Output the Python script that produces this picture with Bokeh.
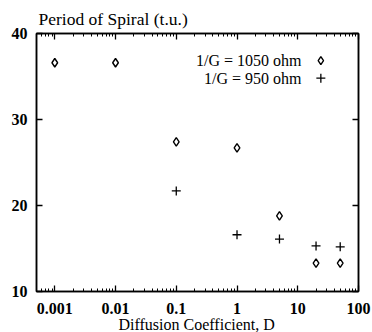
from bokeh.plotting import figure
from bokeh.models import LogAxis, LinearAxis, FixedTicker, Label, Title
from bokeh.embed import file_html
from bokeh.resources import INLINE

# data
D_1050 = [0.001, 0.01, 0.1, 1, 5, 20, 50]
T_1050 = [36.6, 36.6, 27.4, 26.7, 18.8, 13.3, 13.3]
D_950 = [0.1, 1, 5, 20, 50]
T_950 = [21.7, 16.6, 16.1, 15.3, 15.2]
x_ticks = [0.001, 0.01, 0.1, 1, 10, 100]
y_ticks = [10, 20, 30, 40]
legend_labels = ["1/G = 1050 ohm", "1/G = 950 ohm"]
title_text = "Period of Spiral (t.u.)"
xlabel_text = "Diffusion Coefficient, D"

FONT = "Liberation Serif"
minor = [m * 10 ** e for e in range(-4, 2) for m in range(2, 10)]

p = figure(width=372, height=332, x_axis_type="log", x_range=(0.0005, 100), y_range=(10, 40),
           output_backend="svg", toolbar_location=None,
           min_border_left=36, min_border_right=14, min_border_top=33, min_border_bottom=41)
p.grid.visible = False
p.outline_line_color = "black"
p.outline_line_width = 1.5
p.background_fill_color = "white"
p.border_fill_color = "white"

def style_axis(ax, show_labels=True):
    ax.axis_line_color = "black"
    ax.axis_line_width = 1.5
    ax.major_tick_in = 6
    ax.major_tick_out = 0
    ax.minor_tick_in = 3
    ax.minor_tick_out = 0
    ax.major_tick_line_width = 1.3
    ax.minor_tick_line_width = 1
    ax.major_label_text_font = FONT
    ax.major_label_text_font_style = "bold"
    ax.major_label_text_font_size = "16px"
    ax.major_label_text_color = "black"
    if not show_labels:
        ax.major_label_text_alpha = 0
        ax.major_label_text_font_size = "1px"
        ax.major_label_standoff = 0

xa = p.xaxis[0]
xa.ticker = FixedTicker(ticks=x_ticks, minor_ticks=minor)
xa.major_label_overrides = {0.001: "0.001", 0.01: "0.01", 0.1: "0.1", 1: "1", 10: "10", 100: "100"}
style_axis(xa)
xa.major_label_standoff = 11

ya = p.yaxis[0]
ya.ticker = FixedTicker(ticks=y_ticks, minor_ticks=[])
style_axis(ya)
ya.major_label_standoff = 9

top = LogAxis(ticker=FixedTicker(ticks=x_ticks, minor_ticks=minor))
style_axis(top, False)
p.add_layout(top, "above")
right = LinearAxis(ticker=FixedTicker(ticks=y_ticks, minor_ticks=[]))
style_axis(right, False)
p.add_layout(right, "right")

p.add_layout(Title(text=title_text, text_font=FONT, text_font_style="normal", text_font_size="17.5px",
                   text_color="black", align="left", offset=2, standoff=10), "above")
p.add_layout(Title(text=xlabel_text, text_font=FONT, text_font_style="normal", text_font_size="16px",
                   text_color="black", align="left", offset=82, standoff=-6), "below")

p.scatter(D_1050, T_1050, marker="diamond", size=8.5, fill_color=None, line_color="black", line_width=1.4)
p.scatter(D_950, T_950, marker="cross", size=9, line_color="black", line_width=1.3)

# legend (text right-aligned, marker to the right)
leg_x_text = 11.5
leg_x_mark = 24.0
leg_y = [36.85, 34.8]
for lab, yy in zip(legend_labels, leg_y):
    p.add_layout(Label(x=leg_x_text, y=yy, text=lab, text_font=FONT, text_font_size="16px",
                       text_color="black", text_align="right", text_baseline="middle"))
p.scatter([leg_x_mark], [leg_y[0]], marker="diamond", size=8, fill_color=None, line_color="black", line_width=1.4)
p.scatter([leg_x_mark], [leg_y[1]], marker="cross", size=9, line_color="black", line_width=1.3)

open("out.html", "w").write(file_html(p, INLINE))
